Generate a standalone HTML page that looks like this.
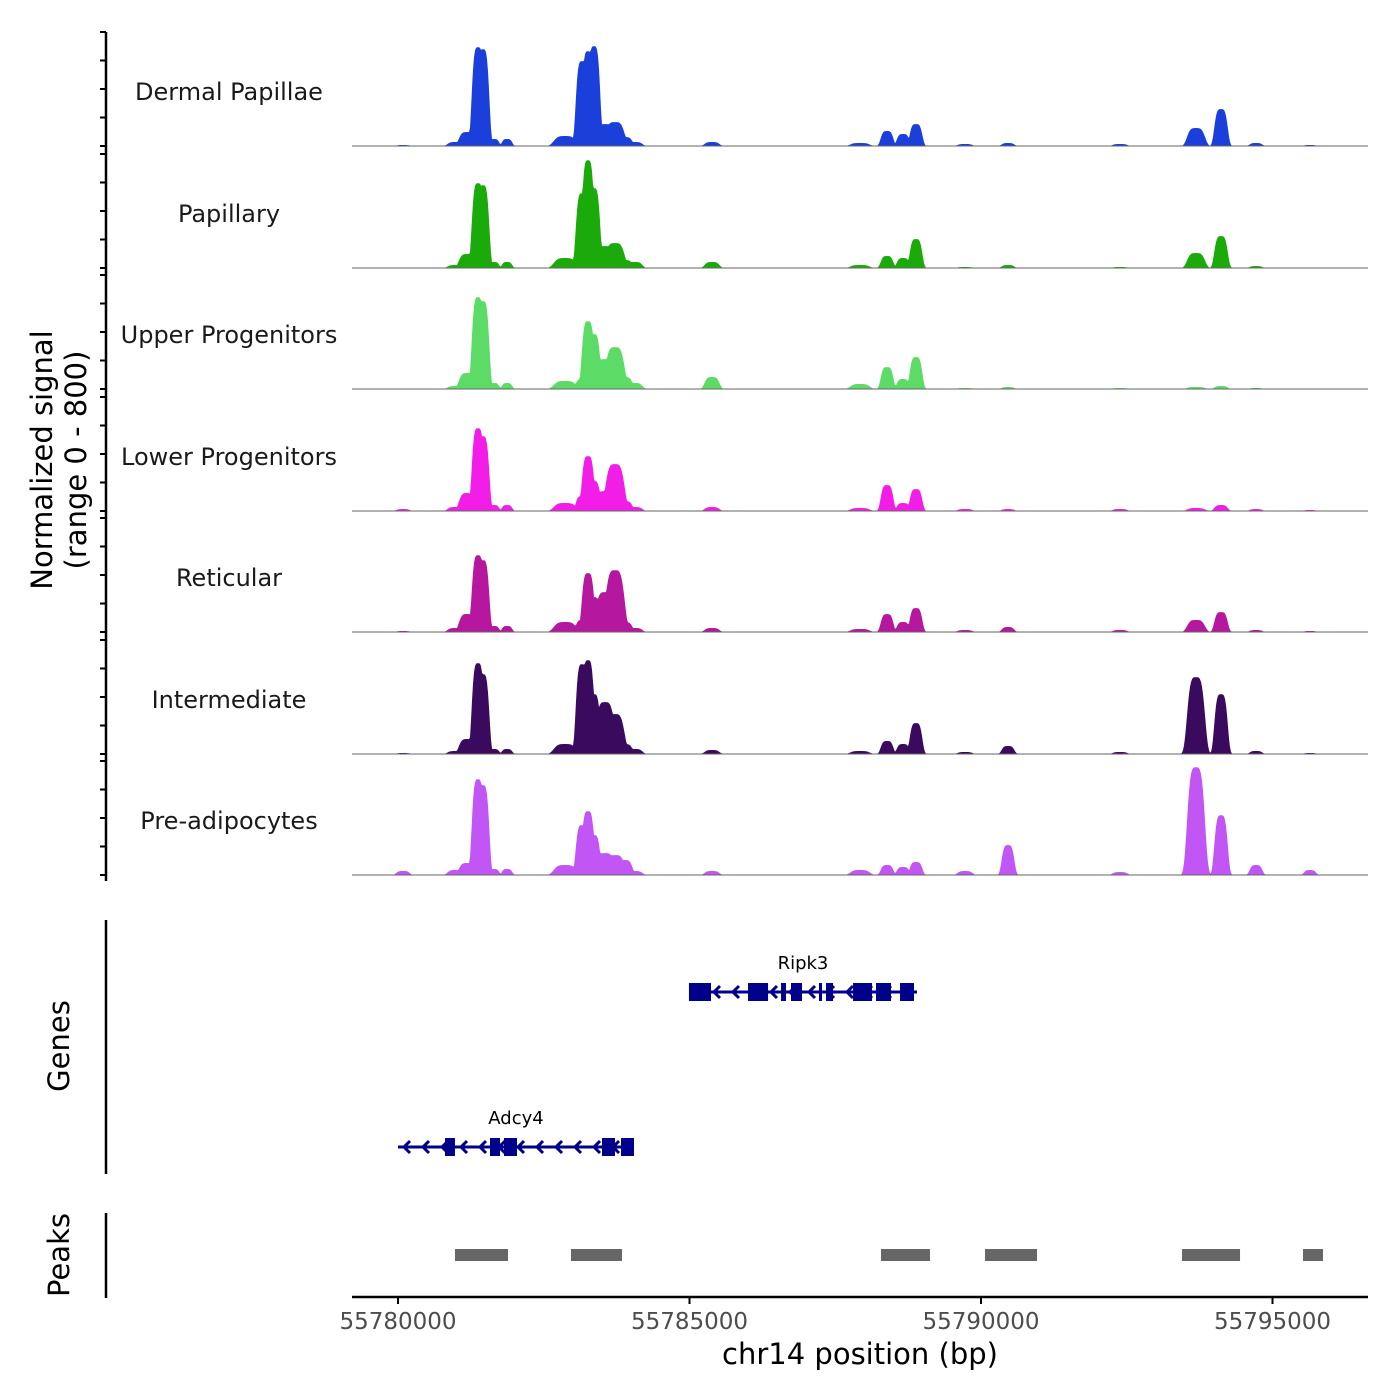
<!DOCTYPE html>
<html><head><meta charset="utf-8"><style>
html,body{margin:0;padding:0;background:#fff;}
svg{display:block;font-family:"DejaVu Sans","Liberation Sans",sans-serif;}
</style></head><body>
<svg id="chart" width="1400" height="1400" viewBox="0 0 1400 1400" xmlns="http://www.w3.org/2000/svg">
<g id="tracks"></g>
<g id="genes"></g>
<g id="peaks"></g>
<g id="axes"></g>
<text x="52" y="460" font-size="29" text-anchor="middle" transform="rotate(-90 52 460)" fill="#000">Normalized signal</text>
<text x="86" y="460" font-size="29" text-anchor="middle" transform="rotate(-90 86 460)" fill="#000">(range 0 - 800)</text>
<text x="69" y="1046" font-size="29" text-anchor="middle" transform="rotate(-90 69 1046)" fill="#000">Genes</text>
<text x="69" y="1255" font-size="29" text-anchor="middle" transform="rotate(-90 69 1255)" fill="#000">Peaks</text>
<text x="860" y="1364" font-size="29" text-anchor="middle" fill="#000">chr14 position (bp)</text>
</svg>
<script>
const trackNames = ["Dermal Papillae","Papillary","Upper Progenitors","Lower Progenitors","Reticular","Intermediate","Pre-adipocytes"];
const trackColors = ["#1a3fdb","#1aaa0a","#5cdc66","#f21ee8","#b5179f","#3a0a5e","#c256f5"];
const peakCenters = [55780086,55780978,55781184,55781372,55781458,55781647,55781870,55782864,55783156,55783259,55783362,55783551,55783722,55783894,55784065,55785386,55787925,55788388,55788662,55788885,55789726,55790463,55792384,55793688,55794117,55794717,55795643];
const peakWidths = [90,100,110,85,85,70,70,150,85,85,85,130,130,100,100,100,130,85,85,85,100,85,100,120,90,85,80];
const sigDermal = [7,28,98,693,679,49,49,70,595,665,700,154,168,63,28,28,21,105,84,154,14,21,14,126,259,21,7];
const sigPapillary = [0,21,98,595,581,42,42,70,525,756,560,154,175,56,42,42,21,84,70,203,7,21,7,105,224,14,0];
const sigUpper = [0,21,112,644,616,42,42,56,70,476,385,210,294,84,42,84,35,154,70,224,7,14,7,14,21,7,0];
const sigLower = [14,28,126,581,525,42,42,56,105,385,210,140,329,70,28,28,21,182,56,154,14,14,14,21,42,14,7];
const sigReticular = [7,28,126,539,504,42,42,70,84,413,245,280,434,70,28,28,21,126,70,168,14,35,14,84,140,14,7];
const sigIntermediate = [7,21,105,637,560,35,35,70,630,658,420,364,280,70,35,28,21,91,70,217,14,56,14,539,420,21,7];
const sigPreadip = [28,35,84,672,630,42,42,70,350,448,280,154,140,105,28,28,35,70,56,91,28,210,21,756,420,70,35];
const xTicks = [55780000,55785000,55790000,55795000];
const geneNames = ["Ripk3","Adcy4"];
const geneStarts = [55784991,55780000];
const geneEnds = [55788902,55784048];
const ripk3Exons = [[55784991,55785369],[55786004,55786347],[55786570,55786655],[55786741,55786930],[55787221,55787273],[55787342,55787462],[55787805,55788131],[55788199,55788456],[55788611,55788851]];
const adcy4Exons = [[55780806,55780977],[55781578,55781750],[55781818,55782041],[55783499,55783722],[55783825,55784048]];
const peakStarts = [55780977,55782967,55788285,55790069,55793448,55795523];
const peakEnds = [55781887,55783842,55789125,55790961,55794443,55795866];

const NS="http://www.w3.org/2000/svg";
const X0=352, X1=1368;
function xs(bp){return 398+(bp-55780000)*291.5/5000;}
function invx(px){return 55780000+(px-398)*5000/291.5;}
const baselines=[146,268,389,511,632,754,875];
function ys(v,b){return b - v*114/800;}
function mk(tag,attrs,parent){const e=document.createElementNS(NS,tag);for(const k in attrs)e.setAttribute(k,attrs[k]);parent.appendChild(e);return e;}
const allSig=[sigDermal,sigPapillary,sigUpper,sigLower,sigReticular,sigIntermediate,sigPreadip];
const tg=document.getElementById('tracks');
allSig.forEach((sig,ti)=>{
  const b=baselines[ti];
  let d='M'+X0+' '+b;
  for(let px=X0;px<=1325;px+=1){
    const bp=invx(px);let v=0;
    for(let i=0;i<peakCenters.length;i++){const z=(bp-peakCenters[i])/peakWidths[i];const g=sig[i]*Math.exp(-0.5*z*z*z*z/2);if(g>v)v=g;}
    d+=' L'+px+' '+ys(v,b).toFixed(1);
  }
  d+=' L1325 '+b+' Z';
  const p=mk('path',{d:d,fill:trackColors[ti]},tg);
  
  
  const l=mk('line',{x1:X0,x2:X1,y1:b,y2:b,stroke:'#666','stroke-width':1},tg);
  
  
  const t=mk('text',{x:229,y:b-46,'font-size':24,'text-anchor':'middle',fill:'#1a1a1a'},tg);
  t.textContent=trackNames[ti];
  
  
});
const gg=document.getElementById('genes');
const geneY=[992,1147], geneEx=[ripk3Exons,adcy4Exons];
geneNames.forEach((nm,gi)=>{
  const y=geneY[gi], x1=xs(geneStarts[gi]), x2=xs(geneEnds[gi]);
  const l=mk('line',{x1:x1,x2:x2,y1:y,y2:y,stroke:'#00008b','stroke-width':3},gg);
  
  
  for(let cx=x1+6;cx<x2-4;cx+=19){
    const c=mk('polyline',{points:(cx+6)+','+(y-6)+' '+cx+','+y+' '+(cx+6)+','+(y+6),fill:'none',stroke:'#00008b','stroke-width':3},gg);
    
    
  }
  geneEx[gi].forEach(e=>{
    const r=mk('rect',{x:xs(e[0]),y:y-9,width:xs(e[1])-xs(e[0]),height:18,fill:'#00008b'},gg);
    
    
  });
  const t=mk('text',{x:(x1+x2)/2,y:y-23,'font-size':18,'text-anchor':'middle',fill:'#000'},gg);
  t.textContent=nm;
  
  
});
const pg=document.getElementById('peaks');
peakStarts.forEach((s,i)=>{
  const r=mk('rect',{x:xs(s),y:1249,width:xs(peakEnds[i])-xs(s),height:12,fill:'#666'},pg);
  
  
});
const ag=document.getElementById('axes');
function ln(x1,y1,x2,y2,w,name){const l=mk('line',{x1:x1,y1:y1,x2:x2,y2:y2,stroke:'#000','stroke-width':w},ag);}
ln(106,32,106,881,2.5,'y-axis-line');
baselines.forEach(b=>{for(let k=0;k<5;k++){ln(100,b-k*28.5,106,b-k*28.5,2,'y-tick');}});
ln(106,920,106,1174,2.5,'genes-axis-line');
ln(106,1213,106,1298,2.5,'peaks-axis-line');
ln(352,1297,1368,1297,2.5,'x-axis-line');
xTicks.forEach(v=>{
  ln(xs(v),1297,xs(v),1304,2,'x-tick');
  const t=mk('text',{x:xs(v),y:1329,'font-size':23,'text-anchor':'middle',fill:'#4d4d4d'},ag);
  t.textContent=v;
  
  
});
</script>
</body></html>
